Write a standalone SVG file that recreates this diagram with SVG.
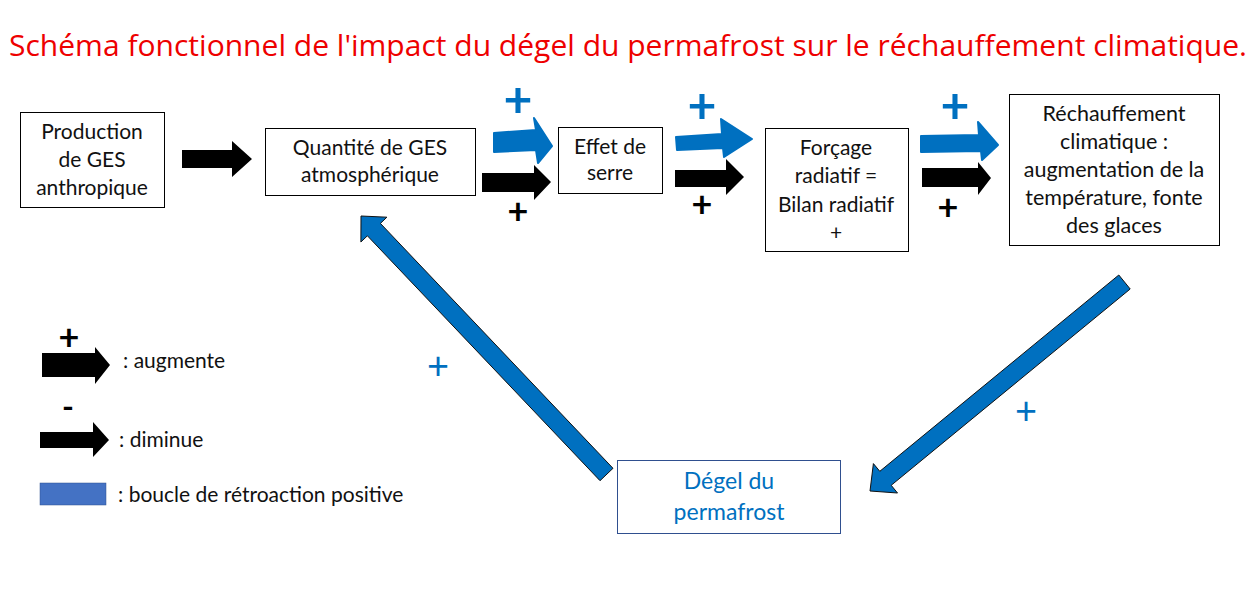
<svg xmlns="http://www.w3.org/2000/svg" width="1258" height="601" viewBox="0 0 1258 601">
<style>
.box{fill:#fff;stroke:#000;stroke-width:1}
.t{font-family:Lato,"Liberation Sans",sans-serif;font-size:21px;fill:#111;text-anchor:middle}
.lg{font-family:Lato,"Liberation Sans",sans-serif;font-size:21px;fill:#111}
.blk{fill:#000}
.hand{fill:#0070C0;stroke:#0070C0;stroke-width:2;stroke-linejoin:round}
.diag{fill:#0070C0;stroke:#111;stroke-width:1}
.pb{font-family:Lato,"Liberation Sans",sans-serif;font-weight:bold;fill:#0070C0;text-anchor:middle}
.pk{font-family:Lato,"Liberation Sans",sans-serif;font-weight:bold;fill:#000;text-anchor:middle}
.pt{font-family:Lato,"Liberation Sans",sans-serif;fill:#0070C0;text-anchor:middle}
</style>
<rect width="1258" height="601" fill="#fff"/>
<text x="9" y="56" font-family="'Open Sans','Noto Sans',sans-serif" font-size="29.5" fill="#EE0000" textLength="1238" lengthAdjust="spacingAndGlyphs">Schéma fonctionnel de l'impact du dégel du permafrost sur le réchauffement climatique.</text>

<g id="node-production">
<rect class="box" x="20.5" y="112.5" width="144" height="95"/>
<text class="t" x="92" y="139">Production</text>
<text class="t" x="92" y="167">de GES</text>
<text class="t" x="92" y="195">anthropique</text>
</g>
<g id="node-quantite">
<rect class="box" x="265.5" y="128.5" width="210" height="67"/>
<text class="t" x="370" y="155">Quantité de GES</text>
<text class="t" x="370" y="182">atmosphérique</text>
</g>
<g id="node-effet">
<rect class="box" x="558.5" y="127.5" width="104" height="66"/>
<text class="t" x="610" y="154">Effet de</text>
<text class="t" x="610" y="180">serre</text>
</g>
<g id="node-forcage">
<rect class="box" x="765.5" y="128.5" width="143" height="123"/>
<text class="t" x="836" y="155">Forçage</text>
<text class="t" x="836" y="183">radiatif =</text>
<text class="t" x="836" y="212">Bilan radiatif</text>
<text class="t" x="836" y="240">+</text>
</g>
<g id="node-rechauffement">
<rect class="box" x="1009.5" y="94.5" width="210" height="151"/>
<text class="t" x="1114" y="121" style="font-size:21.5px">Réchauffement</text>
<text class="t" x="1114" y="149" style="font-size:21.5px">climatique :</text>
<text class="t" x="1114" y="177" style="font-size:21.5px">augmentation de la</text>
<text class="t" x="1114" y="205" style="font-size:21.5px">température, fonte</text>
<text class="t" x="1114" y="233" style="font-size:21.5px">des glaces</text>
</g>
<g id="node-degel">
<rect x="617.5" y="460.5" width="223" height="73" fill="#fff" stroke="#2F4F8F" stroke-width="1"/>
<text class="t" x="729" y="489" style="fill:#0070C0;font-size:23px">Dégel du</text>
<text class="t" x="729" y="520" style="fill:#0070C0;font-size:23px">permafrost</text>
</g>

<g id="connectors">
<polygon class="blk" points="182,150 232,150 232,141 252,159 232,177 232,168 182,168"/>
<polygon class="hand" points="494,133 536,130 534,118 552,146 538,163 536,150 494,152"/>
<polygon class="blk" points="482,173 534,173 534,165 551,182 534,200 534,192 482,192"/>
<polygon class="hand" points="676,137 722,134 721,119 752,139 724,157 723,148 677,150"/>
<polygon class="blk" points="675,170 726,170 726,159 744,177 726,195 726,187 675,187"/>
<polygon class="hand" points="921,136 979,135 978,122 998,145 982,160 981,151 921,152"/>
<polygon class="blk" points="922,168 978,168 978,162 991,178 978,195 978,187 922,187"/>
<polygon class="diag" points="1130.2,289 891.2,485.3 897.5,493 870,491 873.4,463.6 879.8,471.3 1118.8,275"/>
<polygon class="diag" points="613,468.3 380.4,223.4 386.9,217.2 361,216 360.9,242 367.4,235.8 600,480.7"/>
<text class="pb" x="518" y="117" font-size="50">+</text>
<text class="pk" x="518" y="224" font-size="36">+</text>
<text class="pb" x="702" y="123" font-size="50">+</text>
<text class="pk" x="702" y="217" font-size="36">+</text>
<text class="pb" x="955" y="123" font-size="50">+</text>
<text class="pk" x="948" y="220" font-size="36">+</text>
<text class="pt" x="438" y="379" font-size="38">+</text>
<text class="pt" x="1026" y="424" font-size="38">+</text>
</g>

<g id="legend">
<text class="pk" x="69" y="350" font-size="36">+</text>
<polygon class="blk" points="42,353 95,353 95,347 110,365 95,384 95,377 42,377"/>
<text class="lg" x="123" y="368">: augmente</text>
<text class="pk" x="68" y="418" font-size="32">-</text>
<polygon class="blk" points="40,432 93,432 93,422 109,440 93,457 93,448 40,448"/>
<text class="lg" x="119" y="447">: diminue</text>
<rect x="40" y="483" width="66" height="22" fill="#4472C4" stroke="#2F528F" stroke-width="0.5"/>
<text class="lg" x="118" y="502">: boucle de rétroaction positive</text>
</g>
</svg>
